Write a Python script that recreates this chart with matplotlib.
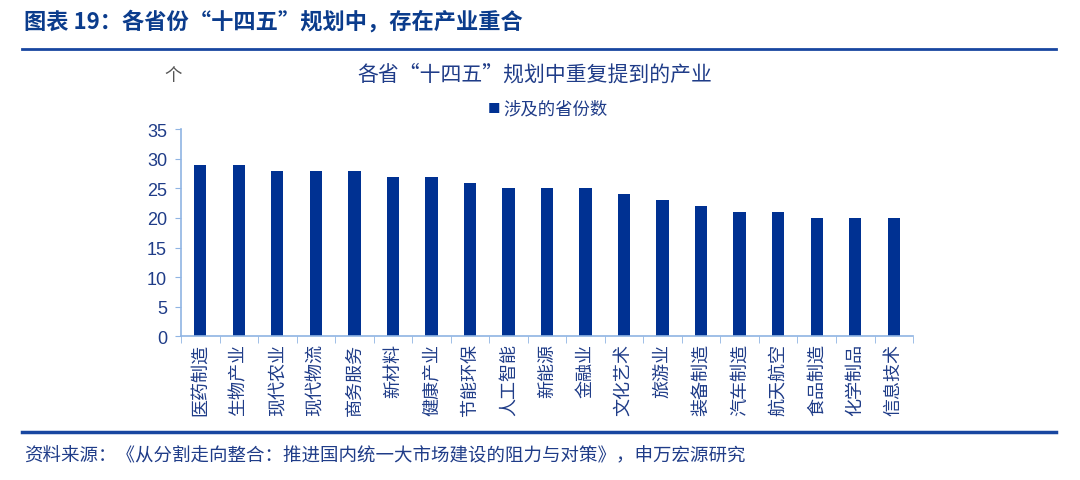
import matplotlib.pyplot as plt
from matplotlib.lines import Line2D

plt.rcParams['font.family'] = ['Noto Sans CJK SC', 'DejaVu Sans']

# 数据
industries = ['医药制造', '生物产业', '现代农业', '现代物流', '商务服务', '新材料', '健康产业',
              '节能环保', '人工智能', '新能源', '金融业', '文化艺术', '旅游业', '装备制造',
              '汽车制造', '航天航空', '食品制造', '化学制品', '信息技术']
provinces = [29, 29, 28, 28, 28, 27, 27, 26, 25, 25, 25, 24, 23, 22, 21, 21, 20, 20, 20]
y_ticks = [0, 5, 10, 15, 20, 25, 30, 35]

bar_color = '#003192'
text_blue = '#1F3C88'
axis_color = '#8FB4E3'

fig = plt.figure(figsize=(10.8, 4.81), dpi=100)

# 顶部标题和分隔线
fig.text(0.022, 0.955, '图表 19：各省份“十四五”规划中，存在产业重合', fontsize=16,
         fontweight='bold', color='#0B3C8C', va='center', ha='left')
fig.add_artist(Line2D([0.02, 0.978], [0.896, 0.896], color='#1846A0', lw=2))
fig.add_artist(Line2D([0.02, 0.978], [0.099, 0.099], color='#1846A0', lw=2.5))
fig.text(0.022, 0.052, '资料来源：《从分割走向整合：推进国内统一大市场建设的阻力与对策》，申万宏源研究',
         fontsize=13.3, color='#1F3C88', va='center', ha='left')

ax = fig.add_axes([0.1676, 0.299, 0.6778, 0.43])
x = list(range(len(industries)))
ax.bar(x, provinces, width=0.32, color=bar_color)
ax.set_xlim(-0.5, len(industries) - 0.5)
ax.set_ylim(0, 35)
ax.set_yticks(y_ticks)
ax.set_yticklabels([str(v) for v in y_ticks], fontsize=13, color=text_blue,
                   family=['Liberation Sans', 'DejaVu Sans'])
ax.set_xticks(x)
ax.set_xticklabels(industries, rotation=90, fontsize=13, color=text_blue)
ax.tick_params(axis='x', length=0, pad=5)
ax.set_xticks([i - 0.5 for i in range(len(industries) + 1)], minor=True)
ax.tick_params(axis='x', which='minor', length=5, color=axis_color, direction='out')
ax.tick_params(axis='y', length=4, color=axis_color, direction='out', pad=6)
for side in ['top', 'right']:
    ax.spines[side].set_visible(False)
for side in ['left', 'bottom']:
    ax.spines[side].set_color(axis_color)
    ax.spines[side].set_linewidth(1.2)

fig.text(0.16, 0.843, '个', fontsize=12.5, color='#555555', ha='center', va='center')
fig.text(0.495, 0.845, '各省“十四五”规划中重复提到的产业', fontsize=15, color='#1F3C88',
         ha='center', va='center')
fig.text(0.452, 0.772, '■', fontsize=9, color=bar_color, ha='left', va='center')
fig.text(0.466, 0.772, '涉及的省份数', fontsize=12.5, color='#1F3C88', ha='left', va='center')

plt.savefig('out.png', dpi=100)
